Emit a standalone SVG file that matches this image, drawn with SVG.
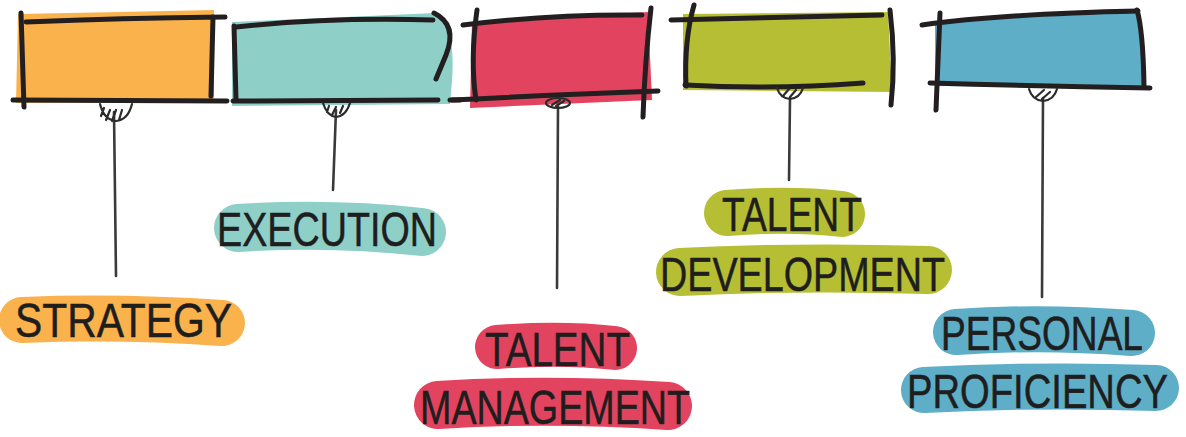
<svg xmlns="http://www.w3.org/2000/svg" width="1186" height="437" viewBox="0 0 1186 437">
<style>
.ink{fill:none;stroke:#231f20;stroke-width:5;stroke-linecap:round;stroke-linejoin:round}
.stem{fill:none;stroke:#3a3a3a;stroke-width:2.6;stroke-linecap:round}
.pin{fill:none;stroke:#2b2b2b;stroke-width:2.2;stroke-linecap:round}
.hl{fill:none;stroke-linecap:round;stroke-linejoin:round}
.lbl{font-family:"Liberation Sans",Arial,sans-serif;font-size:48px;fill:#1e1e1e;stroke:#1e1e1e;stroke-width:0.5}
.lbs{font-family:"Liberation Sans",Arial,sans-serif;font-size:36px;fill:#1e1e1e;stroke:#1e1e1e;stroke-width:0.4}
</style>
<rect width="1186" height="437" fill="#ffffff"/>
<g id="connectors">
<path class="stem" d="M114 112 L116 276"/>
<path class="stem" d="M336 110 L333 190"/>
<path class="stem" d="M558 106 L557 288"/>
<path class="stem" d="M790 98 L789 180"/>
<path class="stem" d="M1043 98 L1042 297"/>
</g>
<g id="node-strategy">
<path d="M18 14 L120 12 L214 10 L214 102 L16 103 Z" fill="#fab24c"/>
<path class="ink" d="M26 22 Q120 18 225 17"/>
<path class="ink" d="M21 13 L24 107"/>
<path class="ink" d="M213 17 L211 96"/>
<path class="ink" d="M13 100 L227 101" stroke-width="6"/>
<path class="pin" d="M100 104 Q104 120 116 121 Q128 120 132 104 M104 108 L101 116 M110 110 L106 120 M116 110 L112 121 M122 110 L119 120"/>
<path class="hl" d="M22 320 Q120 316 222 323" stroke="#fab24c" stroke-width="46"/>
<text class="lbl" x="15" y="337" textLength="217" lengthAdjust="spacingAndGlyphs">STRATEGY</text>
</g>
<g id="node-execution">
<path d="M232 22 L436 13 Q456 30 452 80 L450 104 L232 106 Z" fill="#8ecfc8"/>
<path class="ink" d="M236 27 Q330 17 433 20"/>
<path class="ink" d="M434 13 Q458 25 446 55 L436 79"/>
<path class="ink" d="M234 26 L236 100"/>
<path class="ink" d="M233 101 L438 100"/>
<path class="ink" d="M450 100 L460 100" stroke-width="3"/>
<path class="pin" d="M323 103 Q327 116 336 117 Q346 116 350 103 M329 106 L327 112 M336 107 L332 115 M343 106 L340 113"/>
<path class="hl" d="M238 228 Q330 222 422 232" stroke="#8ecfc8" stroke-width="48"/>
<text class="lbl" x="217" y="246" textLength="220" lengthAdjust="spacingAndGlyphs">EXECUTION</text>
</g>
<g id="node-talent-management">
<path d="M472 22 L648 12 L652 100 L470 108 Z" fill="#e2445f"/>
<path class="ink" d="M463 25 Q550 14 642 15"/>
<path class="ink" d="M477 10 Q470 60 476 100"/>
<path class="ink" d="M651 8 Q645 60 643 117"/>
<path class="ink" d="M452 100 Q550 95 658 91"/>
<ellipse class="pin" cx="558" cy="103" rx="12" ry="5" stroke-width="3"/>
<path class="pin" d="M552 105 L560 100 M556 106 L564 101"/>
<path class="hl" d="M497 347 Q560 342 615 348" stroke="#e2445f" stroke-width="44"/>
<path class="hl" d="M438 405 Q550 398 668 406" stroke="#e2445f" stroke-width="48"/>
<text class="lbl" x="485" y="366" textLength="145" lengthAdjust="spacingAndGlyphs">TALENT</text>
<text class="lbl" x="420" y="424" textLength="270" lengthAdjust="spacingAndGlyphs">MANAGEMENT</text>
</g>
<g id="node-talent-development">
<path d="M683 14 L888 12 L892 92 L683 90 Z" fill="#b6bf33"/>
<path class="ink" d="M671 20 L882 15"/>
<path class="ink" d="M694 5 Q684 40 686 86"/>
<path class="ink" d="M890 10 Q896 60 891 105"/>
<path class="ink" d="M685 85 Q770 90 863 83" stroke-width="6"/>
<path class="pin" d="M777 88 Q780 98 790 99 Q800 98 803 88 M783 96 L789 89 M790 97 L796 90"/>
<path class="hl" d="M727 213 Q790 208 842 214" stroke="#b6bf33" stroke-width="46"/>
<path class="hl" d="M680 272 Q800 266 928 270" stroke="#b6bf33" stroke-width="48"/>
<text class="lbl" x="722" y="231" textLength="140" lengthAdjust="spacingAndGlyphs">TALENT</text>
<text class="lbl" x="660" y="291" textLength="285" lengthAdjust="spacingAndGlyphs">DEVELOPMENT</text>
</g>
<g id="node-personal-proficiency">
<path d="M935 22 L1138 10 L1145 87 L935 86 Z" fill="#5faec8"/>
<path class="ink" d="M922 25 Q1000 14 1138 11"/>
<path class="ink" d="M940 13 L936 110"/>
<path class="ink" d="M1137 10 Q1143 30 1144 85"/>
<path class="ink" d="M930 83 Q1040 86 1150 88" stroke-width="6"/>
<path class="pin" d="M1029 89 Q1032 100 1043 101 Q1054 100 1057 89 M1036 97 L1044 90 M1042 99 L1050 92"/>
<path class="hl" d="M956 332 Q1040 326 1132 333" stroke="#5faec8" stroke-width="46"/>
<path class="hl" d="M924 390 Q1040 384 1156 388" stroke="#5faec8" stroke-width="46"/>
<text class="lbs" transform="translate(941 350) scale(1 1.333)" x="0" y="0" textLength="202" lengthAdjust="spacingAndGlyphs">PERSONAL</text>
<text class="lbs" transform="translate(907 408) scale(1 1.333)" x="0" y="0" textLength="261" lengthAdjust="spacingAndGlyphs">PROFICIENCY</text>
</g>
</svg>
